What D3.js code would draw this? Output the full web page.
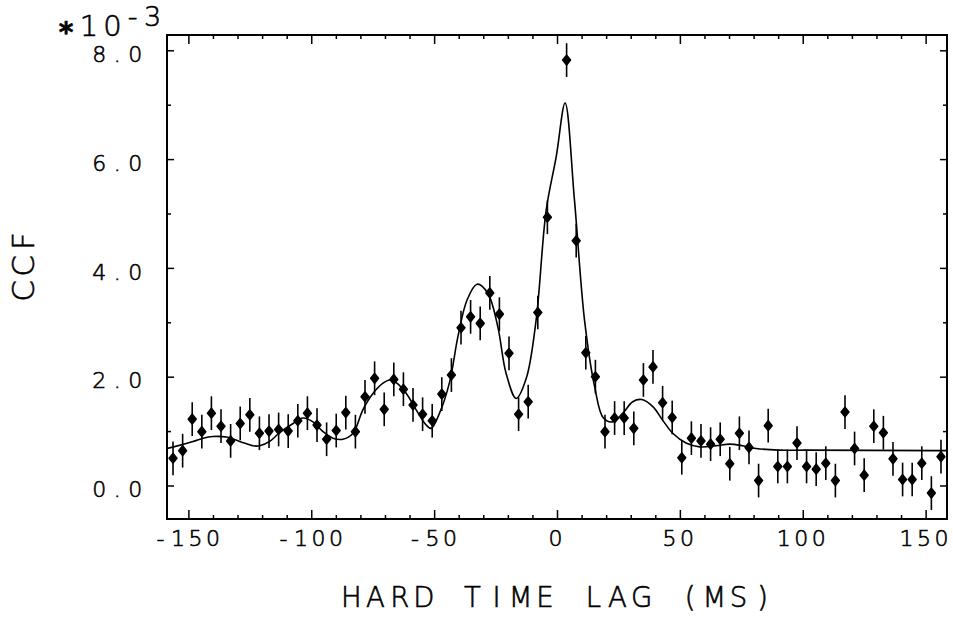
<!DOCTYPE html>
<html>
<head>
<meta charset="utf-8">
<script src="https://cdn.jsdelivr.net/npm/d3@7"></script>
<style>
  html, body { margin: 0; padding: 0; background: #fff; }
  svg { display: block; }
  text { font-family: "DejaVu Sans", sans-serif; font-weight: 200; fill: #000; stroke: #000; stroke-width: 0.6; }
</style>
</head>
<body>
<svg id="chart" width="953" height="618"></svg>
<script>
// Cross-correlation function, hard band, time lag in ms (zero lag omitted)
const lags = [
  -156.25, -152.34, -148.44, -144.53, -140.63, -136.72, -132.81, -128.91, -125.00, -121.09,
  -117.19, -113.28, -109.38, -105.47, -101.56, -97.66, -93.75, -89.84, -85.94, -82.03,
  -78.13, -74.22, -70.31, -66.41, -62.50, -58.59, -54.69, -50.78, -46.88, -42.97,
  -39.06, -35.16, -31.25, -27.34, -23.44, -19.53, -15.63, -11.72, -7.81, -3.91,
  3.91, 7.81, 11.72, 15.63, 19.53, 23.44, 27.34, 31.25, 35.16, 39.06,
  42.97, 46.88, 50.78, 54.69, 58.59, 62.50, 66.41, 70.31, 74.22, 78.13,
  82.03, 85.94, 89.84, 93.75, 97.66, 101.56, 105.47, 109.38, 113.28, 117.19,
  121.09, 125.00, 128.91, 132.81, 136.72, 140.63, 144.53, 148.44, 152.34, 156.25
];
// CCF values in units of 10^-3
const ccf = [
  0.50, 0.64, 1.22, 0.99, 1.33, 1.09, 0.82, 1.14, 1.30, 0.96,
  1.00, 1.03, 1.00, 1.19, 1.33, 1.11, 0.85, 1.01, 1.34, 0.99,
  1.63, 1.97, 1.40, 1.95, 1.77, 1.48, 1.31, 1.19, 1.68, 2.03,
  2.90, 3.10, 2.98, 3.54, 3.15, 2.43, 1.31, 1.54, 3.18, 4.93,
  7.82, 4.50, 2.44, 2.00, 0.99, 1.24, 1.24, 1.05, 1.94, 2.18,
  1.52, 1.25, 0.51, 0.87, 0.82, 0.76, 0.85, 0.40, 0.96, 0.70,
  0.09, 1.10, 0.35, 0.35, 0.78, 0.35, 0.30, 0.41, 0.09, 1.35,
  0.68, 0.19, 1.09, 0.97, 0.49, 0.11, 0.11, 0.41, -0.14, 0.53
];
const ccfError = 0.31;

// Model curve
const fitLags = [
  -158.7, -156.0, -148.1, -144.0, -140.0, -134.5, -129.1, -123.7, -121.0, -116.9,
  -112.9, -107.4, -103.4, -99.3, -95.2, -91.2, -87.1, -83.0, -79.0, -74.9,
  -70.8, -68.1, -65.4, -61.3, -57.3, -53.2, -51.2, -47.8, -43.7, -40.3,
  -36.6, -32.5, -28.1, -24.1, -20.7, -16.6, -12.5, -8.5, -4.4, -0.3,
  3.3, 7.1, 11.2, 15.3, 18.9, 22.7, 26.8, 30.8, 34.5, 39.0,
  43.0, 47.1, 52.5, 58.0, 64.7, 70.2, 75.6, 81.0, 90.5, 101.3,
  155.5, 158.7
];
const fitCcf = [
  0.68, 0.71, 0.81, 0.87, 0.90, 0.89, 0.81, 0.73, 0.73, 0.81,
  0.97, 1.14, 1.24, 1.17, 0.99, 0.87, 0.85, 0.96, 1.39, 1.69,
  1.88, 1.94, 1.89, 1.69, 1.39, 1.11, 1.05, 1.33, 1.90, 2.74,
  3.41, 3.70, 3.53, 2.92, 2.06, 1.60, 1.97, 3.04, 5.06, 6.05,
  7.03, 5.25, 3.04, 1.82, 1.24, 1.17, 1.33, 1.54, 1.58, 1.45,
  1.20, 0.96, 0.78, 0.71, 0.73, 0.76, 0.73, 0.68, 0.65, 0.65,
  0.64, 0.64
];

const xMajorTicks = [-150, -100, -50, 0, 50, 100, 150];
const xTickLabels = ["-150", "-100", "-50", "0", "50", "100", "150"];
const xMinorTicks = [-140, -130, -120, -110, -90, -80, -70, -60, -40, -30, -20, -10,
                     10, 20, 30, 40, 60, 70, 80, 90, 110, 120, 130, 140];
const yMajorTicks = [0, 2, 4, 6, 8];
const yTickLabels = ["0.0", "2.0", "4.0", "6.0", "8.0"];
const yMinorTicks = [1, 3, 5, 7];
const xTitle = "HARD TIME LAG (MS)";
const yTitle = "CCF";
const scaleMark = "*";
const scaleBase = "10";
const scaleExp = "-3";

const svg = d3.select("#chart");
const plotLeft = 167, plotRight = 947, plotTop = 35, plotBottom = 519;

const x = d3.scaleLinear().domain([-158.7, 158.7]).range([plotLeft, plotRight]);
const y = d3.scaleLinear().domain([-0.616, 8.281]).range([plotBottom, plotTop]);

// Fixed-pitch text, one glyph per cell like a pen plotter
function plotText(g, str, cx, baseline, pitch, size, anchor) {
  const chars = Array.from(str);
  const n = chars.length;
  const start = anchor === "end" ? cx - pitch * (n - 1) : cx - pitch * (n - 1) / 2;
  const xs = chars.map((c, i) => (start + i * pitch).toFixed(1)).join(" ");
  return g.append("text")
    .attr("x", xs)
    .attr("y", baseline)
    .attr("text-anchor", "middle")
    .attr("font-size", size)
    .text(str);
}

// Ticks, all pointing inward
function tickAxesX(values, size) {
  svg.append("g").attr("transform", `translate(0,${plotBottom})`)
    .call(d3.axisBottom(x).tickValues(values).tickSize(-size).tickFormat(""));
  svg.append("g").attr("transform", `translate(0,${plotTop})`)
    .call(d3.axisTop(x).tickValues(values).tickSize(-size).tickFormat(""));
}
function tickAxesY(values, size) {
  svg.append("g").attr("transform", `translate(${plotLeft},0)`)
    .call(d3.axisLeft(y).tickValues(values).tickSize(-size).tickFormat(""));
  svg.append("g").attr("transform", `translate(${plotRight},0)`)
    .call(d3.axisRight(y).tickValues(values).tickSize(-size).tickFormat(""));
}
tickAxesX(xMajorTicks, 9);
tickAxesX(xMinorTicks, 4);
tickAxesY(yMajorTicks, 7);
tickAxesY(yMinorTicks, 4);
svg.selectAll(".domain").remove();
svg.selectAll(".tick line").attr("stroke", "#000").attr("stroke-width", 1.5);

// Frame
svg.append("rect")
  .attr("x", plotLeft).attr("y", plotTop)
  .attr("width", plotRight - plotLeft).attr("height", plotBottom - plotTop)
  .attr("fill", "none").attr("stroke", "#000").attr("stroke-width", 2);

// Tick labels
const labels = svg.append("g");
xMajorTicks.forEach((v, i) => {
  plotText(labels, xTickLabels[i], x(v) - 1.5, 546, 17.5, 22, "middle");
});
yMajorTicks.forEach((v, i) => {
  plotText(labels, yTickLabels[i], 135.3, y(v) + 11.8, 18, 22, "end");
});

// Axis titles
plotText(svg, xTitle, 557, 606.7, 24.2, 27.5, "middle");
const yt = svg.append("g").attr("transform", "translate(34,266) rotate(-90)");
plotText(yt, yTitle, 0, 0, 25, 31, "middle");

// Scale factor
svg.append("text").attr("x", 66).attr("y", 42).attr("text-anchor", "middle")
  .attr("font-size", 28).style("font-weight", 700).text(scaleMark);
plotText(svg, scaleBase, 100.7, 36, 23.5, 29, "middle");
plotText(svg, scaleExp, 142.5, 26, 20, 27, "middle");

// Model curve
const fit = fitLags.map((l, i) => [l, fitCcf[i]]);
svg.append("path")
  .datum(fit)
  .attr("fill", "none")
  .attr("stroke", "#000")
  .attr("stroke-width", 1.6)
  .attr("stroke-linejoin", "round")
  .attr("d", d3.line().x(d => x(d[0])).y(d => y(d[1])).curve(d3.curveCatmullRom.alpha(0.5)));

// Data points with error bars
const pts = lags.map((l, i) => ({ lag: l, v: ccf[i] }));
const pg = svg.append("g");
pg.selectAll("line.err").data(pts).join("line")
  .attr("class", "err")
  .attr("x1", d => x(d.lag)).attr("x2", d => x(d.lag))
  .attr("y1", d => y(d.v - ccfError)).attr("y2", d => y(d.v + ccfError))
  .attr("stroke", "#000").attr("stroke-width", 1.6);
pg.selectAll("path.pt").data(pts).join("path")
  .attr("class", "pt")
  .attr("transform", d => `translate(${x(d.lag)},${y(d.v)})`)
  .attr("d", "M0,-4.8L3.9,0L0,4.8L-3.9,0Z")
  .attr("fill", "#000").attr("stroke", "#000")
  .attr("stroke-width", 1.6).attr("stroke-linejoin", "round");
</script>
</body>
</html>
